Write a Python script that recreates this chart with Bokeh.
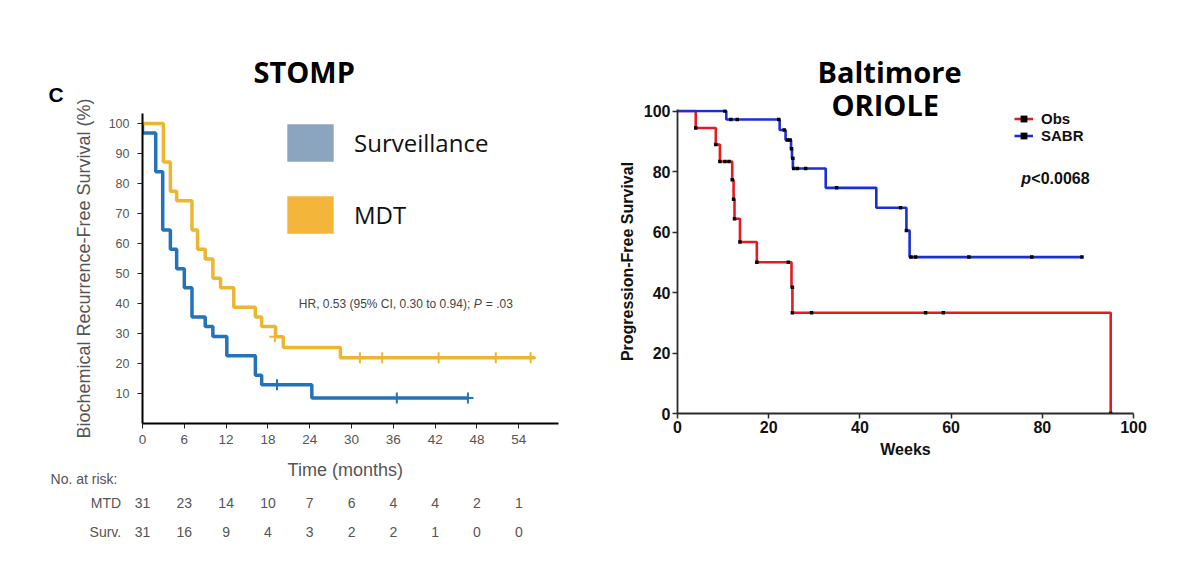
from bokeh.plotting import figure
from bokeh.models import (Label, ColumnDataSource, FixedTicker, Range1d,
                          Legend, LegendItem, Title)
from bokeh.layouts import row, column
from bokeh.embed import file_html
from bokeh.resources import INLINE
from bokeh.core.properties import value

# ---------------- STOMP (left panel) ----------------
surv_t = [0, 0, 1.9, 2.9, 4.0, 4.9, 6.0, 7.1, 9.0, 10.1, 12.1, 16.2, 17.1, 24.3, 46.7]
surv_s = [100, 96.8, 83.9, 64.5, 58.1, 51.6, 45.2, 35.5, 32.3, 29.0, 22.6, 16.1, 12.9, 8.5, 8.5]
surv_cens_t = [19.3, 36.5, 46.7]
surv_cens_s = [12.9, 8.5, 8.5]

mdt_t = [0, 3.0, 4.0, 4.9, 7.1, 7.9, 9.0, 10.1, 11.2, 13.1, 16.2, 17.1, 19.1, 20.2, 28.4, 56.3]
mdt_s = [100, 87.1, 77.4, 74.2, 64.5, 58.1, 54.8, 48.4, 45.2, 38.7, 35.5, 32.3, 28.9, 25.3, 21.9, 21.9]
mdt_cens_t = [19.0, 31.2, 34.4, 42.5, 50.7, 55.7]
mdt_cens_s = [28.9, 21.9, 21.9, 21.9, 21.9, 21.9]

month_ticks = [0, 6, 12, 18, 24, 30, 36, 42, 48, 54]
pct_ticks = [10, 20, 30, 40, 50, 60, 70, 80, 90, 100]
risk_mtd = [31, 23, 14, 10, 7, 6, 4, 4, 2, 1]
risk_surv = [31, 16, 9, 4, 3, 2, 2, 1, 0, 0]
risk_rows = ["MTD", "Surv."]
legend_left = ["Surveillance", "MDT"]

# ---------------- Baltimore ORIOLE (right panel) ----------------
obs_t = [0, 4.0, 8.4, 9.3, 12.0, 12.3, 12.5, 13.7, 17.4, 25.0, 25.2, 95.0]
obs_s = [100, 94.4, 88.9, 83.3, 77.3, 70.8, 64.4, 56.7, 50.0, 41.7, 33.3, 0]
obs_pts_t = [4.0, 8.4, 9.3, 10.4, 11.3, 12.0, 12.3, 12.5, 13.7, 17.4, 24.3, 25.2, 25.2, 29.4, 54.4, 58.3, 95.0]
obs_pts_s = [94.4, 88.9, 83.3, 83.3, 83.3, 77.3, 70.8, 64.4, 56.7, 50.0, 50.0, 41.7, 33.3, 33.3, 33.3, 33.3, 0]

sabr_t = [0, 10.7, 22.4, 23.7, 24.9, 25.1, 25.3, 32.5, 43.6, 50.2, 50.9, 88.7]
sabr_s = [100, 97.2, 93.7, 90.4, 87.5, 84.4, 81.0, 74.6, 68.0, 60.5, 51.7, 51.7]
sabr_pts_t = [10.4, 11.7, 13.1, 22.2, 23.4, 24.1, 24.7, 25.0, 25.3, 25.5, 26.3, 28.1, 34.9,
              48.9, 50.2, 51.2, 52.2, 63.9, 77.7, 88.7]
sabr_pts_s = [100, 97.2, 97.2, 97.2, 93.7, 90.4, 90.4, 87.5, 84.4, 81.0, 81.0, 81.0, 74.6,
              68.0, 60.5, 51.7, 51.7, 51.7, 51.7, 51.7]

week_ticks = [0, 20, 40, 60, 80, 100]
pfs_ticks = [0, 20, 40, 60, 80, 100]

# ---------------- styles ----------------
FONT = "Liberation Sans"
BLUE_L = "#2273B9"
GOLD_L = "#ECB631"
RED_R = "#E31B23"
BLUE_R = "#1B2FD6"
NAN = float("nan")


def no_align(p):
    try:
        p.frame_align = False
    except Exception:
        pass


# ======== left figure (KM curves) ========
p1 = figure(width=600, height=450, x_range=Range1d(0, 59.7), y_range=Range1d(0, 103.3),
            output_backend="svg", toolbar_location=None, title=None,
            min_border_left=142, min_border_right=42, min_border_top=113, min_border_bottom=27)
no_align(p1)
p1.grid.visible = False
p1.outline_line_color = None

p1.step(surv_t, surv_s, mode="after", line_color=BLUE_L, line_width=3.5)
p1.step(mdt_t, mdt_s, mode="after", line_color=GOLD_L, line_width=3.5)
p1.scatter(surv_cens_t, surv_cens_s, marker="cross", size=11, line_color=BLUE_L, line_width=2)
p1.scatter(mdt_cens_t, mdt_cens_s, marker="cross", size=11, line_color=GOLD_L, line_width=2)

xa = p1.xaxis[0]
xa.ticker = FixedTicker(ticks=month_ticks)
ya = p1.yaxis[0]
ya.ticker = FixedTicker(ticks=pct_ticks)
ya.axis_label = "Biochemical Recurrence-Free Survival (%)"
for ax, fs in ((xa, "13.5px"), (ya, "12.5px")):
    ax.axis_line_color = "black"
    ax.axis_line_width = 2
    ax.major_tick_line_color = "#222"
    ax.major_tick_out = 5
    ax.major_tick_in = 0
    ax.minor_tick_line_color = None
    ax.major_label_text_font = FONT
    ax.major_label_text_font_size = fs
    ax.major_label_text_color = "#555"
    ax.axis_label_text_font = FONT
    ax.axis_label_text_font_style = "normal"
    ax.axis_label_text_color = "#555"
xa.major_label_standoff = 6
ya.major_label_standoff = 8
ya.axis_label_text_font_size = "18px"
ya.axis_label_standoff = 12

# legend squares (Surveillance / MDT)
r_sv = p1.rect(x=[NAN], y=[NAN], width=1, height=1, fill_color="#8BA5BF", line_color=None)
r_md = p1.rect(x=[NAN], y=[NAN], width=1, height=1, fill_color="#F3B53A", line_color=None)
leg1 = Legend(items=[LegendItem(label=legend_left[0], renderers=[r_sv]),
                     LegendItem(label=legend_left[1], renderers=[r_md])],
              location=(139, 185), glyph_width=58, glyph_height=47, label_height=47,
              label_standoff=15, spacing=25, padding=0, margin=0,
              label_text_font="Open Sans", label_text_font_size="24px",
              label_text_color="#111", border_line_color=None, background_fill_alpha=0)
p1.add_layout(leg1)

# titles above the left frame ("C" closest to the frame, then "STOMP")
p1.add_layout(Title(text="C", align="left", offset=-94, standoff=16, text_font=FONT,
                    text_font_style="bold", text_font_size="21px", text_color="black"), "above")
p1.add_layout(Title(text="STOMP", align="left", offset=111, standoff=-36, text_font="Open Sans",
                    text_font_style="bold", text_font_size="29px", text_color="black"), "above")

hr_x, hr_y = 22.43, 39.9
p1.add_layout(Label(x=hr_x, y=hr_y, text="HR, 0.53 (95% CI, 0.30 to 0.94);", text_font=FONT,
                    text_font_size="12px", text_baseline="middle", text_color="#444"))
p1.add_layout(Label(x=hr_x, y=hr_y, x_offset=175, text="P", text_font=FONT, text_font_style="italic",
                    text_font_size="12px", text_baseline="middle", text_color="#444"))
p1.add_layout(Label(x=hr_x, y=hr_y, x_offset=187, text="= .03", text_font=FONT,
                    text_font_size="12px", text_baseline="middle", text_color="#444"))

# ======== left figure (axis title + numbers at risk) ========
pt = figure(width=600, height=95, x_range=Range1d(-14.64, 59.7), y_range=Range1d(95, 0),
            output_backend="svg", toolbar_location=None, title=None,
            x_axis_location=None, y_axis_location=None,
            min_border_left=40, min_border_right=42, min_border_top=0, min_border_bottom=0)
no_align(pt)
pt.grid.visible = False
pt.outline_line_color = None

txt_kw = dict(text_font=value(FONT), text_baseline="middle", text_color="#555")
pt.text(x=[29.1], y=[19.3], text=["Time (months)"], text_font_size="18px", text_align="center", **txt_kw)
pt.text(x=[-13.2], y=[28.3], text=["No. at risk:"], text_font_size="14px", text_align="left", **txt_kw)
row_y = [52.7, 81.0]
pt.text(x=[-3.06, -3.06], y=row_y, text=risk_rows, text_font_size="14px", text_align="right", **txt_kw)
for vals, yy in zip((risk_mtd, risk_surv), row_y):
    src = ColumnDataSource(dict(t=month_ticks, y=[yy] * len(month_ticks), txt=[str(v) for v in vals]))
    pt.text(x="t", y="y", text="txt", source=src, text_font_size="14px", text_align="center", **txt_kw)

left = column(p1, pt)

# ======== right figure ========
p2 = figure(width=584, height=473, x_range=Range1d(0, 100), y_range=Range1d(0, 100.5),
            output_backend="svg", toolbar_location=None, title=None,
            min_border_left=77, min_border_right=51, min_border_top=109, min_border_bottom=60)
no_align(p2)
p2.grid.visible = False
p2.outline_line_color = None

r_obs = p2.step(obs_t, obs_s, mode="after", line_color=RED_R, line_width=2.6)
r_sabr = p2.step(sabr_t, sabr_s, mode="after", line_color=BLUE_R, line_width=2.6)
d_obs = p2.scatter(obs_pts_t, obs_pts_s, marker="square", size=3.5, fill_color="black", line_color=None)
d_sabr = p2.scatter(sabr_pts_t, sabr_pts_s, marker="square", size=3.5, fill_color="black", line_color=None)

xb = p2.xaxis[0]
xb.ticker = FixedTicker(ticks=week_ticks)
xb.axis_label = "Weeks"
yb = p2.yaxis[0]
yb.ticker = FixedTicker(ticks=pfs_ticks)
yb.axis_label = "Progression-Free Survival"
for ax in (xb, yb):
    ax.axis_line_color = "#2b2b2b"
    ax.axis_line_width = 1.8
    ax.major_tick_line_color = "#2b2b2b"
    ax.major_tick_line_width = 1.5
    ax.major_tick_out = 5
    ax.major_tick_in = 0
    ax.minor_tick_line_color = None
    ax.major_label_text_font = FONT
    ax.major_label_text_font_style = "bold"
    ax.major_label_text_font_size = "16px"
    ax.major_label_text_color = "#111"
    ax.axis_label_text_font = FONT
    ax.axis_label_text_font_style = "bold"
    ax.axis_label_text_font_size = "16px"
    ax.axis_label_text_color = "#111"
xb.major_label_standoff = 2
xb.axis_label_standoff = 5
yb.major_label_standoff = 2
yb.axis_label_standoff = 5

leg2 = Legend(items=[LegendItem(label="Obs", renderers=[r_obs, d_obs]),
                     LegendItem(label="SABR", renderers=[r_sabr, d_sabr])],
              location=(337, 269), glyph_width=19, glyph_height=17, label_height=17,
              label_standoff=8, spacing=0, padding=0, margin=0,
              label_text_font=FONT, label_text_font_style="bold", label_text_font_size="15px",
              label_text_color="#111", border_line_color=None, background_fill_alpha=0)
p2.add_layout(leg2)

p2.add_layout(Title(text="ORIOLE", align="left", offset=154, standoff=-28, text_font="Open Sans",
                    text_font_style="bold", text_font_size="29px", text_color="black"), "above")
p2.add_layout(Title(text="Baltimore", align="left", offset=140, standoff=11, text_font="Open Sans",
                    text_font_style="bold", text_font_size="29px", text_color="black"), "above")

p2.add_layout(Label(x=75.4, y=77.8, text="p", text_font=FONT, text_font_style="bold italic",
                    text_font_size="16px", text_baseline="middle", text_color="#111"))
p2.add_layout(Label(x=75.4, y=77.8, x_offset=10, text="<0.0068", text_font=FONT, text_font_style="bold",
                    text_font_size="16px", text_baseline="middle", text_color="#111"))

layout = row(left, p2)
open("out.html", "w").write(file_html(layout, INLINE))
